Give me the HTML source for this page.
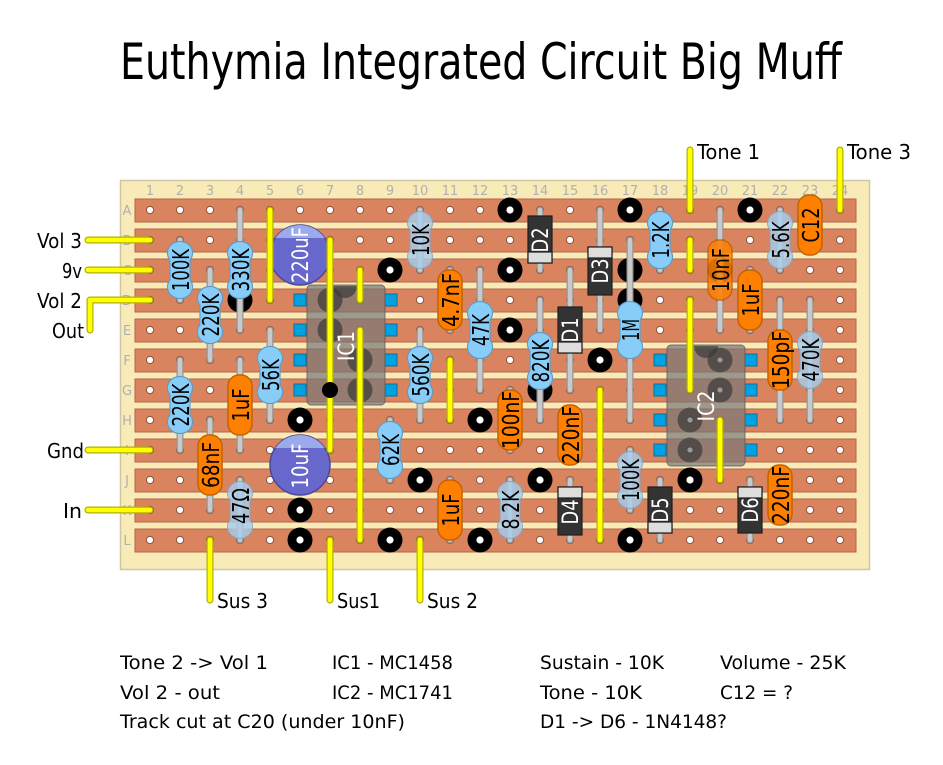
<!DOCTYPE html>
<html><head><meta charset="utf-8"><style>
html,body{margin:0;padding:0;background:#fff;}
svg{display:block;}
.t{font-family:"DejaVu Sans","Liberation Sans",sans-serif;fill:#000;}
.lb{font-family:"DejaVu Sans","Liberation Sans",sans-serif;font-size:23px;text-anchor:middle;fill:#000;}
.lw{font-family:"DejaVu Sans","Liberation Sans",sans-serif;font-size:22px;text-anchor:middle;fill:#fff;}
.num{font-family:"DejaVu Sans","Liberation Sans",sans-serif;font-size:13px;fill:#b0b0b0;text-anchor:middle;}
</style></head><body>
<svg width="943" height="765" viewBox="0 0 943 765" xmlns="http://www.w3.org/2000/svg">
<defs>
<pattern id="holes" patternUnits="userSpaceOnUse" x="135" y="195" width="30" height="30">
<circle cx="15" cy="15" r="3.6" fill="#fff" stroke="#8e5238" stroke-width="1"/>
</pattern>
<g id="leadpaths">
<path d="M180 240V300M240 210V330M210 270V360M270 330V420M180 360V450M240 480V540M420 210V270M480 270V390M420 330V420M390 420V480M540 300V420M510 480V540M630 240V420M660 210V270M780 210V270M810 300V420M630 450V510M450 270V330M240 360V450M210 420V510M450 480V540M510 390V450M570 420V450M720 210V330M750 270V330M810 210V240M780 300V420M780 480V510M540 210V270M600 210V330M570 270V390M570 480V540M660 480V540M750 480V540"/>
</g>
<g id="wirepaths">
<path d="M88 240H150M88 270H150M90 330V300H150M88 450H150M88 510H150M210 540V600M330 540V600M420 540V600M690 150V210M840 150V210M270 210V300M330 240V450M360 270V300M360 330V540M450 360V420M600 390V540M690 240V270M690 300V390M720 420V480"/>
</g>
<g id="rb">
<g fill="#88cdf8" stroke="#5a9ccc" stroke-width="2.2"><ellipse cx="0" cy="-17" rx="12" ry="11"/><ellipse cx="0" cy="17" rx="12" ry="11"/><rect x="-9.5" y="-20" width="19" height="40"/></g>
<g fill="#88cdf8"><ellipse cx="0" cy="-17" rx="12" ry="11"/><ellipse cx="0" cy="17" rx="12" ry="11"/><rect x="-9.5" y="-20" width="19" height="40"/></g>
</g>
<g id="rbp">
<g fill="#a8cdec" stroke="#7aa8d0" stroke-width="2.2"><ellipse cx="0" cy="-17" rx="12" ry="11"/><ellipse cx="0" cy="17" rx="12" ry="11"/><rect x="-9.5" y="-20" width="19" height="40"/></g>
<g fill="#a8cdec"><ellipse cx="0" cy="-17" rx="12" ry="11"/><ellipse cx="0" cy="17" rx="12" ry="11"/><rect x="-9.5" y="-20" width="19" height="40"/></g>
</g>
<g id="cap"><rect x="-12" y="-30" width="24" height="60" rx="11" fill="#ff8000" stroke="#c46200" stroke-width="1.5"/></g>
<g id="cut"><circle r="12.5" fill="#000"/><circle r="3.6" fill="#fff"/></g>
</defs>

<rect width="943" height="765" fill="#fff"/>
<text class="t" x="120" y="79" font-size="50" textLength="722" lengthAdjust="spacingAndGlyphs">Euthymia Integrated Circuit Big Muff</text>

<!-- board -->
<rect x="120.5" y="180.5" width="749" height="389" fill="#f8ebb8" stroke="#cfc6a4" stroke-width="1.5"/>
<g fill="#d9835f" stroke="#b3644a" stroke-width="1">
<rect x="135" y="199" width="721" height="23"/>
<rect x="135" y="229" width="721" height="23"/>
<rect x="135" y="259" width="721" height="23"/>
<rect x="135" y="289" width="721" height="23"/>
<rect x="135" y="319" width="721" height="23"/>
<rect x="135" y="349" width="721" height="23"/>
<rect x="135" y="379" width="721" height="23"/>
<rect x="135" y="409" width="721" height="23"/>
<rect x="135" y="439" width="721" height="23"/>
<rect x="135" y="469" width="721" height="23"/>
<rect x="135" y="499" width="721" height="23"/>
<rect x="135" y="529" width="721" height="23"/>
</g>
<rect x="135" y="195" width="720" height="360" fill="url(#holes)"/>

<g class="num">
<text x="150" y="195">1</text><text x="180" y="195">2</text><text x="210" y="195">3</text><text x="240" y="195">4</text><text x="270" y="195">5</text><text x="300" y="195">6</text><text x="330" y="195">7</text><text x="360" y="195">8</text><text x="390" y="195">9</text><text x="420" y="195">10</text><text x="450" y="195">11</text><text x="480" y="195">12</text><text x="510" y="195">13</text><text x="540" y="195">14</text><text x="570" y="195">15</text><text x="600" y="195">16</text><text x="630" y="195">17</text><text x="660" y="195">18</text><text x="690" y="195">19</text><text x="720" y="195">20</text><text x="750" y="195">21</text><text x="780" y="195">22</text><text x="810" y="195">23</text><text x="840" y="195">24</text>
<text x="127" y="215">A</text><text x="127" y="245">B</text><text x="127" y="275">C</text><text x="127" y="305">D</text><text x="127" y="335">E</text><text x="127" y="365">F</text><text x="127" y="395">G</text><text x="127" y="425">H</text><text x="127" y="455">I</text><text x="127" y="485">J</text><text x="127" y="515">K</text><text x="127" y="545">L</text>
</g>

<!-- track cuts -->
<use href="#cut" x="240" y="300"/><use href="#cut" x="390" y="270"/><use href="#cut" x="510" y="210"/><use href="#cut" x="510" y="270"/><use href="#cut" x="510" y="330"/><use href="#cut" x="630" y="210"/><use href="#cut" x="750" y="210"/><use href="#cut" x="630" y="270"/><use href="#cut" x="630" y="300"/><use href="#cut" x="600" y="360"/><use href="#cut" x="540" y="390"/><use href="#cut" x="480" y="420"/><use href="#cut" x="420" y="480"/><use href="#cut" x="540" y="480"/><use href="#cut" x="390" y="540"/><use href="#cut" x="480" y="540"/><use href="#cut" x="300" y="420"/><use href="#cut" x="300" y="510"/><use href="#cut" x="300" y="540"/><use href="#cut" x="630" y="540"/><use href="#cut" x="690" y="480"/><use href="#cut" x="720" y="270"/>

<!-- ICs -->
<g fill="#00a2e2" stroke="#0a6f9a" stroke-width="1">
<rect x="294" y="294" width="12" height="12"/><rect x="294" y="324" width="12" height="12"/><rect x="294" y="354" width="12" height="12"/><rect x="294" y="384" width="12" height="12"/>
<rect x="385" y="294" width="12" height="12"/><rect x="385" y="324" width="12" height="12"/><rect x="385" y="354" width="12" height="12"/><rect x="385" y="384" width="12" height="12"/>
<rect x="654" y="354" width="12" height="12"/><rect x="654" y="384" width="12" height="12"/><rect x="654" y="414" width="12" height="12"/><rect x="654" y="444" width="12" height="12"/>
<rect x="745" y="354" width="12" height="12"/><rect x="745" y="384" width="12" height="12"/><rect x="745" y="414" width="12" height="12"/><rect x="745" y="444" width="12" height="12"/>
</g>
<rect x="307" y="285" width="78" height="120" rx="4" fill="#787878" fill-opacity="0.7" stroke="#5a5a5a" stroke-opacity="0.8"/>
<rect x="667" y="345" width="78" height="121" rx="4" fill="#787878" fill-opacity="0.7" stroke="#5a5a5a" stroke-opacity="0.8"/>
<g fill="#3a3a3a" fill-opacity="0.7">
<path d="M333 286A12 12 0 0 0 357 286Z"/>
<circle cx="330" cy="300" r="12.5"/><circle cx="330" cy="330" r="12.5"/><circle cx="360" cy="360" r="12.5"/><circle cx="360" cy="390" r="12.5"/>
<path d="M694 346A12 12 0 0 0 718 346Z"/>
<circle cx="720" cy="360" r="12.5"/><circle cx="720" cy="390" r="12.5"/><circle cx="690" cy="420" r="12.5"/><circle cx="690" cy="450" r="12.5"/>
</g>
<g fill="#9a9a9a">
<circle cx="330" cy="300" r="2.5"/><circle cx="330" cy="330" r="2.5"/><circle cx="360" cy="360" r="2.5"/><circle cx="360" cy="390" r="2.5"/>
<circle cx="720" cy="360" r="2.5"/><circle cx="720" cy="390" r="2.5"/><circle cx="690" cy="420" r="2.5"/><circle cx="690" cy="450" r="2.5"/>
</g>
<text class="lw" transform="translate(346,346) rotate(-90)" y="8" textLength="30" lengthAdjust="spacingAndGlyphs">IC1</text>
<text class="lw" transform="translate(706,406) rotate(-90)" y="8" textLength="31" lengthAdjust="spacingAndGlyphs">IC2</text>

<!-- leads -->
<use href="#leadpaths" fill="none" stroke="#949494" stroke-width="7" stroke-linecap="round"/>
<use href="#leadpaths" fill="none" stroke="#c9c9c9" stroke-width="4.5" stroke-linecap="round"/>

<!-- resistors -->
<use href="#rb" x="180" y="270"/><text class="lb" transform="translate(181,270) rotate(-90)" y="8" textLength="42" lengthAdjust="spacingAndGlyphs">100K</text>
<use href="#rb" x="240" y="270"/><text class="lb" transform="translate(241,270) rotate(-90)" y="8" textLength="43" lengthAdjust="spacingAndGlyphs">330K</text>
<use href="#rb" x="210" y="315"/><text class="lb" transform="translate(211,315) rotate(-90)" y="8" textLength="43" lengthAdjust="spacingAndGlyphs">220K</text>
<use href="#rb" x="270" y="375"/><text class="lb" transform="translate(271,375) rotate(-90)" y="8" textLength="32" lengthAdjust="spacingAndGlyphs">56K</text>
<use href="#rb" x="180" y="405"/><text class="lb" transform="translate(181,405) rotate(-90)" y="8" textLength="43" lengthAdjust="spacingAndGlyphs">220K</text>
<use href="#rbp" x="240" y="510" opacity="0.8"/><text class="lb" transform="translate(241,506) rotate(-90)" y="8" textLength="36" lengthAdjust="spacingAndGlyphs">47Ω</text>
<use href="#rbp" x="420" y="240" opacity="0.8"/><text class="lb" transform="translate(421,240) rotate(-90)" y="8" textLength="32" lengthAdjust="spacingAndGlyphs">10K</text>
<use href="#rb" x="480" y="330"/><text class="lb" transform="translate(481,330) rotate(-90)" y="8" textLength="32" lengthAdjust="spacingAndGlyphs">47K</text>
<use href="#rb" x="420" y="375"/><text class="lb" transform="translate(421,375) rotate(-90)" y="8" textLength="43" lengthAdjust="spacingAndGlyphs">560K</text>
<use href="#rb" x="390" y="450"/><text class="lb" transform="translate(391,450) rotate(-90)" y="8" textLength="32" lengthAdjust="spacingAndGlyphs">62K</text>
<use href="#rb" x="540" y="361"/><text class="lb" transform="translate(541,361) rotate(-90)" y="8" textLength="43" lengthAdjust="spacingAndGlyphs">820K</text>
<use href="#rbp" x="510" y="510" opacity="0.8"/><text class="lb" transform="translate(511,510) rotate(-90)" y="8" textLength="39" lengthAdjust="spacingAndGlyphs">8.2K</text>
<use href="#rb" x="630" y="330"/><text class="lb" transform="translate(631,330) rotate(-90)" y="8" textLength="22" lengthAdjust="spacingAndGlyphs">1M</text>
<use href="#rb" x="660" y="240"/><text class="lb" transform="translate(661,240) rotate(-90)" y="8" textLength="37" lengthAdjust="spacingAndGlyphs">1.2K</text>
<use href="#rbp" x="780" y="240" opacity="0.8"/><text class="lb" transform="translate(781,240) rotate(-90)" y="8" textLength="37" lengthAdjust="spacingAndGlyphs">5.6K</text>
<use href="#rbp" x="810" y="360" opacity="0.8"/><text class="lb" transform="translate(811,360) rotate(-90)" y="8" textLength="43" lengthAdjust="spacingAndGlyphs">470K</text>
<use href="#rbp" x="630" y="480" opacity="0.8"/><text class="lb" transform="translate(631,480) rotate(-90)" y="8" textLength="42" lengthAdjust="spacingAndGlyphs">100K</text>

<!-- capacitors -->
<use href="#cap" x="450" y="300"/><text class="lb" transform="translate(451,300) rotate(-90)" y="8" textLength="54" lengthAdjust="spacingAndGlyphs">4.7nF</text>
<use href="#cap" x="240" y="405"/><text class="lb" transform="translate(241,405) rotate(-90)" y="8" textLength="33" lengthAdjust="spacingAndGlyphs">1uF</text>
<use href="#cap" x="210" y="465"/><text class="lb" transform="translate(211,465) rotate(-90)" y="8" textLength="46" lengthAdjust="spacingAndGlyphs">68nF</text>
<use href="#cap" x="450" y="510"/><text class="lb" transform="translate(451,510) rotate(-90)" y="8" textLength="33" lengthAdjust="spacingAndGlyphs">1uF</text>
<use href="#cap" x="510" y="420"/><text class="lb" transform="translate(511,420) rotate(-90)" y="8" textLength="58" lengthAdjust="spacingAndGlyphs">100nF</text>
<use href="#cap" x="570" y="435"/><text class="lb" transform="translate(571,435) rotate(-90)" y="8" textLength="58" lengthAdjust="spacingAndGlyphs">220nF</text>
<use href="#cap" x="720" y="270" opacity="0.85"/><text class="lb" transform="translate(721,270) rotate(-90)" y="8" textLength="44" lengthAdjust="spacingAndGlyphs">10nF</text>
<use href="#cap" x="750" y="300"/><text class="lb" transform="translate(751,300) rotate(-90)" y="8" textLength="33" lengthAdjust="spacingAndGlyphs">1uF</text>
<use href="#cap" x="810" y="225"/><text class="lb" transform="translate(811,225) rotate(-90)" y="8" textLength="35" lengthAdjust="spacingAndGlyphs">C12</text>
<use href="#cap" x="780" y="360"/><text class="lb" transform="translate(781,360) rotate(-90)" y="8" textLength="58" lengthAdjust="spacingAndGlyphs">150pF</text>
<use href="#cap" x="780" y="495"/><text class="lb" transform="translate(781,495) rotate(-90)" y="8" textLength="58" lengthAdjust="spacingAndGlyphs">220nF</text>

<!-- electrolytics -->
<circle cx="300" cy="255" r="30" fill="#6767cc" stroke="#4a4a98" stroke-width="1.5"/>
<path d="M275.3 238A30 30 0 0 1 324.7 238Z" fill="#9aaaea"/>
<text class="lw" transform="translate(300,255) rotate(-90)" y="8" textLength="56" lengthAdjust="spacingAndGlyphs">220uF</text>
<circle cx="300" cy="465" r="30" fill="#6767cc" stroke="#4a4a98" stroke-width="1.5"/>
<path d="M275.3 448A30 30 0 0 1 324.7 448Z" fill="#9aaaea"/>
<text class="lw" transform="translate(300,466) rotate(-90)" y="8" textLength="45" lengthAdjust="spacingAndGlyphs">10uF</text>

<!-- diodes -->
<g stroke="#1e1e1e" stroke-width="1.2">
<rect x="528" y="216" width="24" height="47" fill="#333"/><rect x="528" y="252" width="24" height="11" fill="#ddd"/>
<rect x="588" y="247" width="24" height="48" fill="#333"/><rect x="588" y="247" width="24" height="11" fill="#ddd"/>
<rect x="558" y="307" width="24" height="46" fill="#333"/><rect x="558" y="342" width="24" height="11" fill="#ddd"/>
<rect x="558" y="487" width="24" height="48" fill="#333"/><rect x="558" y="487" width="24" height="11" fill="#ddd"/>
<rect x="648" y="487" width="24" height="46" fill="#333"/><rect x="648" y="522" width="24" height="11" fill="#ddd"/>
<rect x="738" y="487" width="24" height="46" fill="#333"/><rect x="738" y="487" width="24" height="11" fill="#ddd"/>
</g>
<text class="lw" transform="translate(540,240) rotate(-90)" y="8" textLength="25" lengthAdjust="spacingAndGlyphs">D2</text>
<text class="lw" transform="translate(600,271) rotate(-90)" y="8" textLength="25" lengthAdjust="spacingAndGlyphs">D3</text>
<text class="lw" transform="translate(570,330) rotate(-90)" y="8" textLength="25" lengthAdjust="spacingAndGlyphs">D1</text>
<text class="lw" transform="translate(570,512) rotate(-90)" y="8" textLength="25" lengthAdjust="spacingAndGlyphs">D4</text>
<text class="lw" transform="translate(660,510) rotate(-90)" y="8" textLength="25" lengthAdjust="spacingAndGlyphs">D5</text>
<text class="lw" transform="translate(750,510) rotate(-90)" y="8" textLength="25" lengthAdjust="spacingAndGlyphs">D6</text>

<!-- wires -->
<use href="#wirepaths" fill="none" stroke="#b0b000" stroke-width="7" stroke-linecap="round" stroke-linejoin="round"/>
<use href="#wirepaths" fill="none" stroke="#ffff00" stroke-width="4.6" stroke-linecap="round" stroke-linejoin="round"/>
<circle cx="330" cy="390" r="8" fill="#000"/>

<!-- off-board labels -->
<g class="t" font-size="20">
<text x="37" y="248" textLength="45" lengthAdjust="spacingAndGlyphs">Vol 3</text>
<text x="62" y="278" textLength="20" lengthAdjust="spacingAndGlyphs">9v</text>
<text x="37" y="308" textLength="45" lengthAdjust="spacingAndGlyphs">Vol 2</text>
<text x="52" y="338" textLength="32" lengthAdjust="spacingAndGlyphs">Out</text>
<text x="47" y="458" textLength="37" lengthAdjust="spacingAndGlyphs">Gnd</text>
<text x="63" y="518" textLength="19" lengthAdjust="spacingAndGlyphs">In</text>
<text x="697" y="159" textLength="63" lengthAdjust="spacingAndGlyphs">Tone 1</text>
<text x="847" y="159" textLength="64" lengthAdjust="spacingAndGlyphs">Tone 3</text>
<text x="217" y="608" textLength="51" lengthAdjust="spacingAndGlyphs">Sus 3</text>
<text x="337" y="608" textLength="43" lengthAdjust="spacingAndGlyphs">Sus1</text>
<text x="427" y="608" textLength="51" lengthAdjust="spacingAndGlyphs">Sus 2</text>
</g>

<!-- notes -->
<g class="t" font-size="19">
<text x="120" y="669" textLength="148" lengthAdjust="spacingAndGlyphs">Tone 2 -&gt; Vol 1</text>
<text x="332" y="669" textLength="121" lengthAdjust="spacingAndGlyphs">IC1 - MC1458</text>
<text x="540" y="669" textLength="124" lengthAdjust="spacingAndGlyphs">Sustain - 10K</text>
<text x="720" y="669" textLength="126" lengthAdjust="spacingAndGlyphs">Volume - 25K</text>
<text x="120" y="699" textLength="100" lengthAdjust="spacingAndGlyphs">Vol 2 - out</text>
<text x="332" y="699" textLength="121" lengthAdjust="spacingAndGlyphs">IC2 - MC1741</text>
<text x="540" y="699" textLength="102" lengthAdjust="spacingAndGlyphs">Tone - 10K</text>
<text x="720" y="699" textLength="73" lengthAdjust="spacingAndGlyphs">C12 = ?</text>
<text x="120" y="728" textLength="285" lengthAdjust="spacingAndGlyphs">Track cut at C20 (under 10nF)</text>
<text x="540" y="728" textLength="187" lengthAdjust="spacingAndGlyphs">D1 -&gt; D6 - 1N4148?</text>
</g>
</svg>
</body></html>
